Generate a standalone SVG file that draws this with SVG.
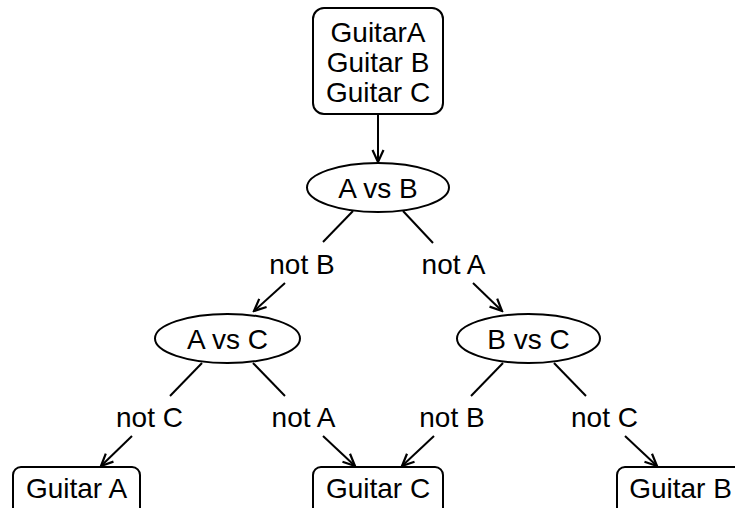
<svg xmlns="http://www.w3.org/2000/svg" width="735" height="508" viewBox="0 0 735 508">
  <style>
    .shape { fill: #ffffff; stroke: #000000; stroke-width: 2; }
    .edge { fill: none; stroke: #000000; stroke-width: 2; }
    text { font-family: "Liberation Sans", Arial, Helvetica, sans-serif; font-size: 28px; fill: #000000; text-anchor: middle; }
  </style>
  <defs>
    <marker id="vee" viewBox="-13 -7 15 14" refX="0" refY="0" markerWidth="15" markerHeight="14" markerUnits="userSpaceOnUse" orient="auto">
      <path d="M-12,-5.5 L0,0 L-12,5.5" fill="none" stroke="#000000" stroke-width="2.2" stroke-linejoin="miter"/>
    </marker>
  </defs>
  <rect width="735" height="508" fill="#ffffff"/>

  <!-- connectors: plain segments into the label nodes, arrows out of them -->
  <g id="edges">
    <path class="edge" d="M378,114 L378,162" marker-end="url(#vee)"/>
    <path class="edge" d="M353,211 L323,242"/>
    <path class="edge" d="M403,211 L433,243"/>
    <path class="edge" d="M285,283 L254,311" marker-end="url(#vee)"/>
    <path class="edge" d="M473,283 L502,311" marker-end="url(#vee)"/>
    <path class="edge" d="M202,363 L170,396"/>
    <path class="edge" d="M253,363 L285,396"/>
    <path class="edge" d="M503,363 L471,396"/>
    <path class="edge" d="M554,363 L586,396"/>
    <path class="edge" d="M132,436 L101,466" marker-end="url(#vee)"/>
    <path class="edge" d="M323,436 L355,466" marker-end="url(#vee)"/>
    <path class="edge" d="M434,436 L402,466" marker-end="url(#vee)"/>
    <path class="edge" d="M625,436 L657,466" marker-end="url(#vee)"/>
  </g>

  <g id="start">
    <rect class="shape" x="313" y="8" width="130" height="106" rx="11"/>
    <text x="378" y="42">GuitarA</text>
    <text x="378" y="72">Guitar B</text>
    <text x="378" y="102">Guitar C</text>
  </g>

  <g id="ab">
    <ellipse class="shape" cx="378" cy="187.5" rx="71" ry="24.5"/>
    <text x="378" y="197.5">A vs B</text>
  </g>

  <g id="ac">
    <ellipse class="shape" cx="227.5" cy="338.5" rx="72.5" ry="24.5"/>
    <text x="227.5" y="348.5">A vs C</text>
  </g>

  <g id="bc">
    <ellipse class="shape" cx="528.5" cy="338.5" rx="71.5" ry="24.5"/>
    <text x="528.5" y="348.5">B vs C</text>
  </g>

  <g id="lbl-notB-1"><text x="302" y="274">not B</text></g>
  <g id="lbl-notA-1"><text x="453.5" y="274">not A</text></g>
  <g id="lbl-notC-1"><text x="149.5" y="427">not C</text></g>
  <g id="lbl-notA-2"><text x="303.5" y="427">not A</text></g>
  <g id="lbl-notB-2"><text x="452" y="427">not B</text></g>
  <g id="lbl-notC-2"><text x="604.5" y="427">not C</text></g>

  <g id="guitarA">
    <rect class="shape" x="13" y="467" width="127" height="60" rx="8"/>
    <text x="76.5" y="498">Guitar A</text>
  </g>

  <g id="guitarC">
    <rect class="shape" x="313" y="467" width="130" height="60" rx="8"/>
    <text x="378" y="498">Guitar C</text>
  </g>

  <g id="guitarB">
    <rect class="shape" x="617" y="467" width="127" height="60" rx="8"/>
    <text x="680.5" y="498">Guitar B</text>
  </g>
</svg>
